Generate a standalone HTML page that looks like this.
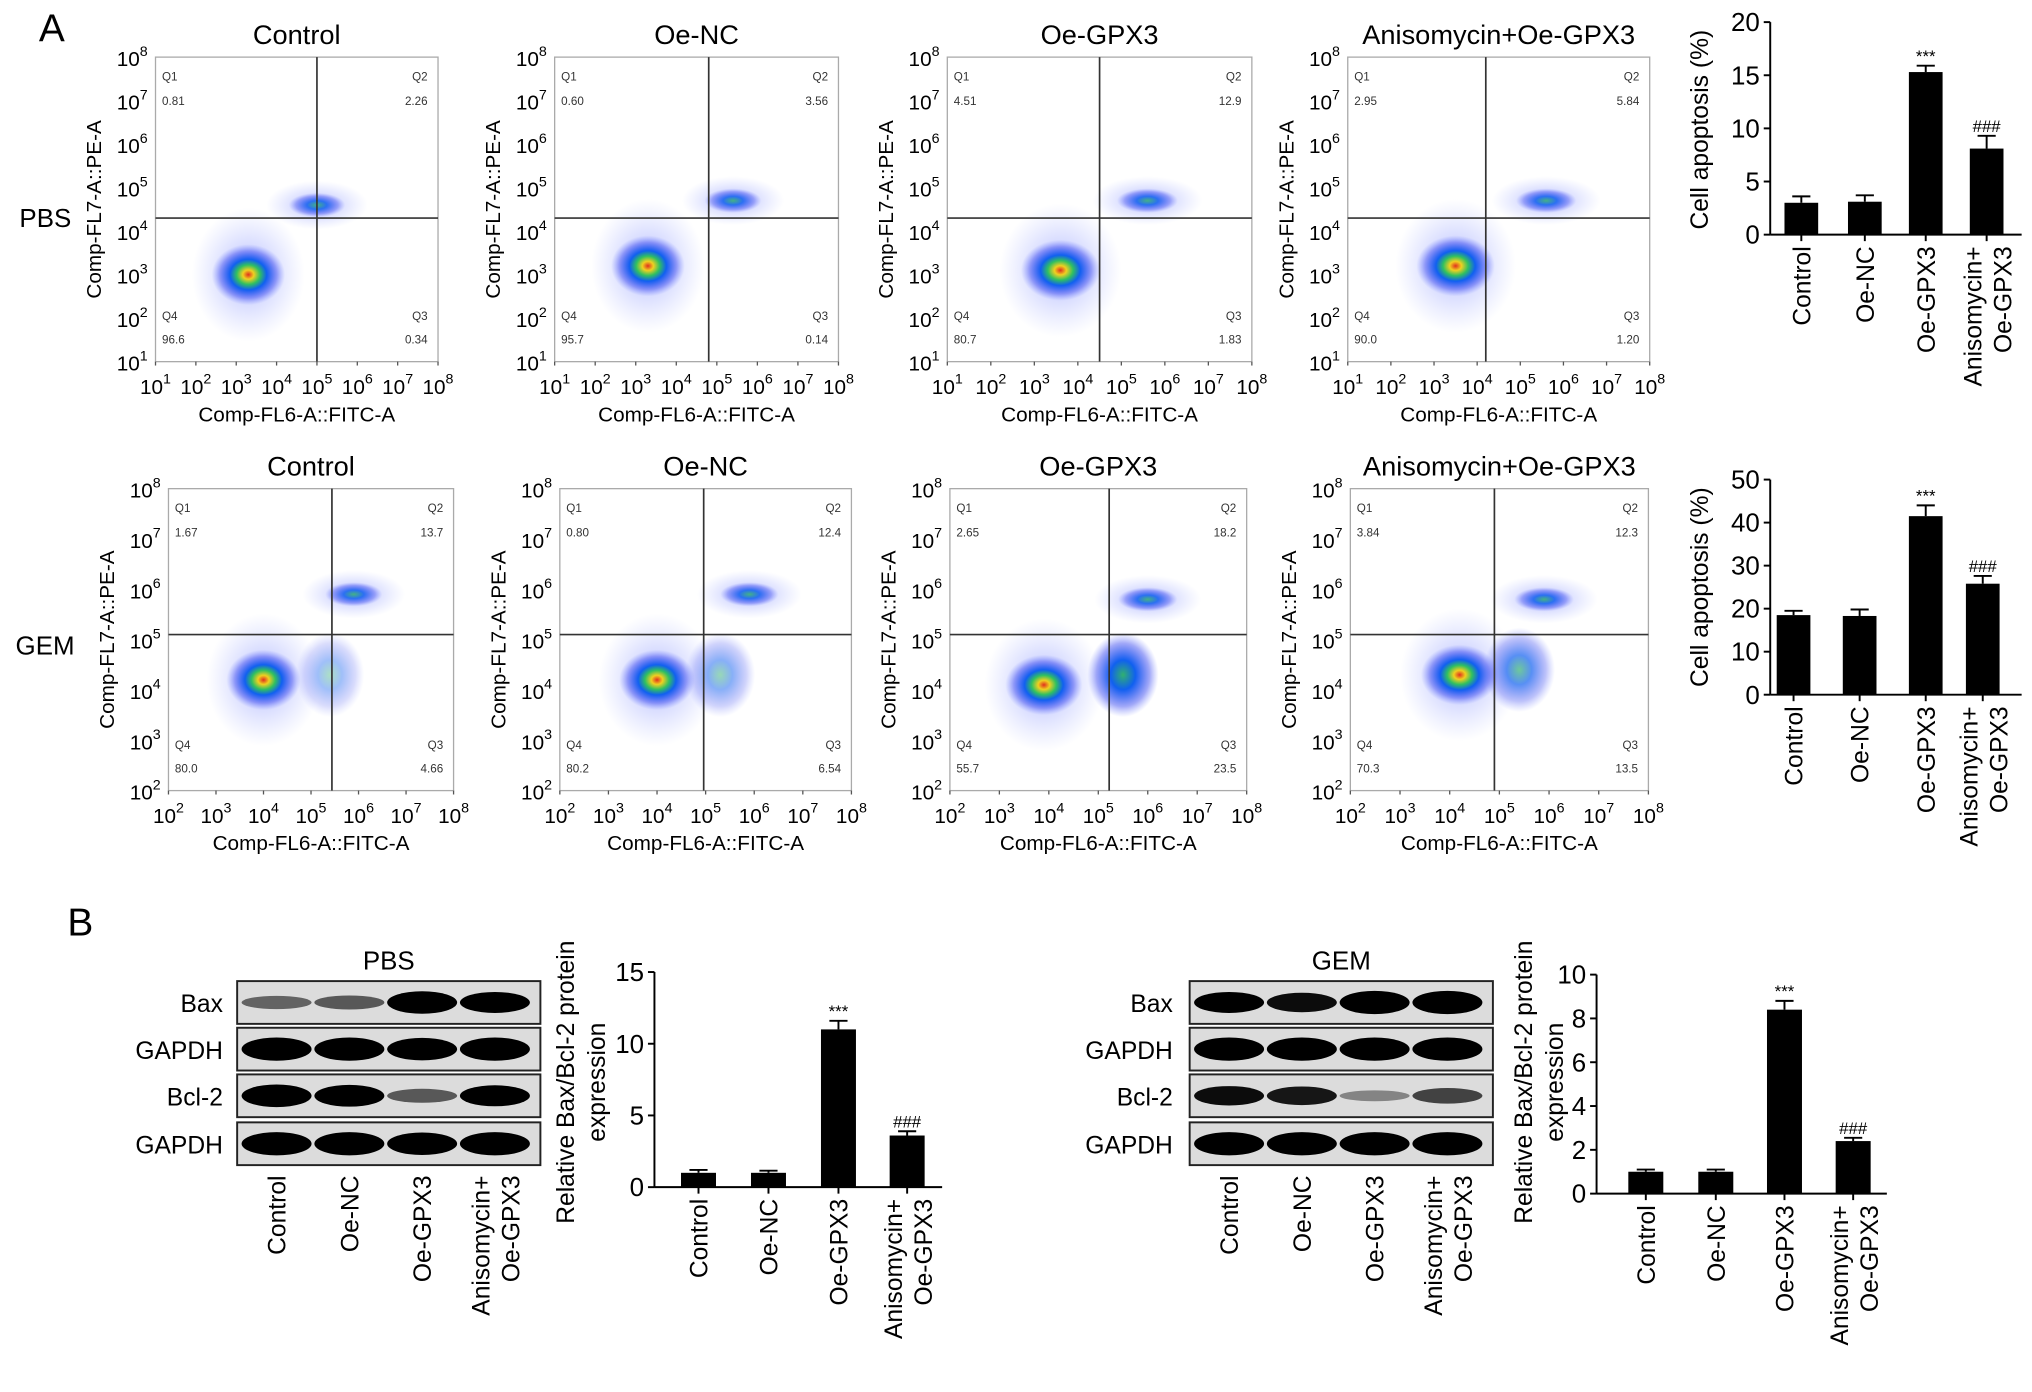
<!DOCTYPE html>
<html><head><meta charset="utf-8"><style>
html,body{margin:0;padding:0;background:#fff}
svg{display:block;font-family:"Liberation Sans",sans-serif}
</style></head><body>
<svg id="fig" width="2032" height="1392" viewBox="0 0 1568 1074" xmlns="http://www.w3.org/2000/svg">
<defs>
<radialGradient id="dens">
<stop offset="0" stop-color="#e0301e"/>
<stop offset="0.15" stop-color="#f0d020"/>
<stop offset="0.32" stop-color="#30c060"/>
<stop offset="0.5" stop-color="#1060f0"/>
<stop offset="0.78" stop-color="#3040f0" stop-opacity="0.45"/>
<stop offset="1" stop-color="#6070ff" stop-opacity="0"/>
</radialGradient>
<radialGradient id="dens2">
<stop offset="0" stop-color="#30b070"/>
<stop offset="0.35" stop-color="#1060f0"/>
<stop offset="0.75" stop-color="#3040f0" stop-opacity="0.45"/>
<stop offset="1" stop-color="#6070ff" stop-opacity="0"/>
</radialGradient>
<radialGradient id="halo">
<stop offset="0" stop-color="#5060ff" stop-opacity="0.45"/>
<stop offset="1" stop-color="#8090ff" stop-opacity="0"/>
</radialGradient>
</defs>
<text x="30" y="32" font-size="30">A</text>
<text x="52" y="722" font-size="30">B</text>
<text x="15" y="175" font-size="20">PBS</text>
<text x="12" y="505" font-size="20">GEM</text>
</svg>
<script>
const NS='http://www.w3.org/2000/svg';
const svg=document.getElementById('fig');
function mk(tag,attrs,parent,txt){const e=document.createElementNS(NS,tag);for(const k in attrs)e.setAttribute(k,attrs[k]);if(txt!==undefined)e.textContent=txt;(parent||svg).appendChild(e);return e;}

// ---------- flow cytometry data ----------
const flowTitles=['Control','Oe-NC','Oe-GPX3','Anisomycin+Oe-GPX3'];
const pbsQ1=['0.81','0.60','4.51','2.95'];
const pbsQ2=['2.26','3.56','12.9','5.84'];
const pbsQ3=['0.34','0.14','1.83','1.20'];
const pbsQ4=['96.6','95.7','80.7','90.0'];
const gemQ1=['1.67','0.80','2.65','3.84'];
const gemQ2=['13.7','12.4','18.2','12.3'];
const gemQ3=['4.66','6.54','23.5','13.5'];
const gemQ4=['80.0','80.2','55.7','70.3'];
// cluster centres (log10 units)
const pbsMainX=[3.3,3.3,3.6,3.5], pbsMainY=[3.0,3.2,3.1,3.2];
const pbsQ2X=[5.0,5.4,5.6,5.6], pbsQ2Y=[4.6,4.7,4.7,4.7];
const gemMainX=[4.0,4.0,3.9,4.2], gemMainY=[4.2,4.2,4.1,4.3];
const gemQ2X=[5.9,5.9,6.0,5.9], gemQ2Y=[5.9,5.9,5.8,5.8];
const gemQ3X=[5.4,5.3,5.5,5.4], gemQ3Y=[4.3,4.3,4.3,4.4];
const gemQ3W=[0.4,0.5,1.0,0.7];
const pbsGateX=[5.0,4.8,4.5,4.2], pbsGateY=[4.3,4.3,4.3,4.3];
const gemGateX=[5.44,4.96,5.22,4.9], gemGateY=[5.1,5.1,5.1,5.1];

const row1Frames=[[120,338],[428,647],[731,966],[1040,1273]];
const row2Frames=[[130,350],[432,657],[733,962],[1042,1272]];

function flowPlot(fr,top,bot,minExp,title,q1,q2,q3,q4,mx,my,qx,qy,gx,gy,name,q3x,q3y,q3w){
  const g=mk('g',{});
  
  
  const [x0,x1]=fr;
  const W=x1-x0,H=bot-top;
  const sx=v=>x0+(v-minExp)/(8-minExp)*W;
  const sy=v=>bot-(v-minExp)/(8-minExp)*H;
  const t=mk('text',{x:(x0+x1)/2,y:top-10,'font-size':21,'text-anchor':'middle'},g,title);
  
  const cp=mk('clipPath',{id:'c'+name},g);mk('rect',{x:x0,y:top,width:W,height:H},cp);
  const cg=mk('g',{'clip-path':'url(#c'+name+')'},g);
  mk('ellipse',{cx:sx(mx),cy:sy(my),rx:W*0.2,ry:H*0.22,fill:'url(#halo)'},cg);
  mk('ellipse',{cx:sx(qx),cy:sy(qy),rx:W*0.18,ry:H*0.08,fill:'url(#halo)'},cg);
  if(q3x!==undefined){
    const q=mk('ellipse',{cx:sx(q3x),cy:sy(q3y),rx:W*0.12,ry:H*0.14,fill:'url(#dens2)',opacity:q3w},cg);
    
  }
  const c=mk('ellipse',{cx:sx(mx),cy:sy(my),rx:W*0.13,ry:H*0.1,fill:'url(#dens)'},cg);
  
  const c2=mk('ellipse',{cx:sx(qx),cy:sy(qy),rx:W*0.1,ry:H*0.04,fill:'url(#dens2)',opacity:0.85},cg);
  
  mk('rect',{x:x0,y:top,width:W,height:H,fill:'none',stroke:'#aaa','stroke-width':1},g);
  const gl=mk('line',{x1:sx(gx),x2:sx(gx),y1:top,y2:bot,stroke:'#333','stroke-width':1.3},g);
  
  const gh=mk('line',{x1:x0,x2:x1,y1:sy(gy),y2:sy(gy),stroke:'#333','stroke-width':1.3},g);
  
  const qa={'font-size':9,fill:'#333'};
  mk('text',Object.assign({x:x0+5,y:top+18},qa),g,'Q1');
  mk('text',Object.assign({x:x0+5,y:top+37},qa),g,q1);
  mk('text',Object.assign({x:x1-8,y:top+18,'text-anchor':'end'},qa),g,'Q2');
  mk('text',Object.assign({x:x1-8,y:top+37,'text-anchor':'end'},qa),g,q2);
  mk('text',Object.assign({x:x0+5,y:bot-32},qa),g,'Q4');
  mk('text',Object.assign({x:x0+5,y:bot-14},qa),g,q4);
  mk('text',Object.assign({x:x1-8,y:bot-32,'text-anchor':'end'},qa),g,'Q3');
  mk('text',Object.assign({x:x1-8,y:bot-14,'text-anchor':'end'},qa),g,q3);
  for(let e=minExp;e<=8;e++){
    const tx=mk('text',{x:sx(e),y:bot+25,'font-size':16,'text-anchor':'middle'},g);
    mk('tspan',{},tx,'10');mk('tspan',{dy:-8,'font-size':11},tx,String(e));
    const ty=mk('text',{x:x0-6,y:sy(e)+7,'font-size':16,'text-anchor':'end'},g);
    mk('tspan',{},ty,'10');mk('tspan',{dy:-8,'font-size':11},ty,String(e));
    mk('line',{x1:sx(e),x2:sx(e),y1:bot,y2:bot+3,stroke:'#555'},g);
  }
  const xl=mk('text',{x:(x0+x1)/2,y:bot+46,'font-size':16,'text-anchor':'middle'},g,'Comp-FL6-A::FITC-A');
  
  const yx=x0-42,yy=(top+bot)/2;
  const yl=mk('text',{x:yx,y:yy,'font-size':16,'text-anchor':'middle',transform:`rotate(-90 ${yx} ${yy})`},g,'Comp-FL7-A::PE-A');
  
}
for(let i=0;i<4;i++){
  flowPlot(row1Frames[i],44,279,1,flowTitles[i],pbsQ1[i],pbsQ2[i],pbsQ3[i],pbsQ4[i],pbsMainX[i],pbsMainY[i],pbsQ2X[i],pbsQ2Y[i],pbsGateX[i],pbsGateY[i],'pbs-flow-'+i);
  flowPlot(row2Frames[i],377,610,2,flowTitles[i],gemQ1[i],gemQ2[i],gemQ3[i],gemQ4[i],gemMainX[i],gemMainY[i],gemQ2X[i],gemQ2Y[i],gemGateX[i],gemGateY[i],'gem-flow-'+i,gemQ3X[i],gemQ3Y[i],gemQ3W[i]);
}

// ---------- bar chart data ----------
const cats=['Control','Oe-NC','Oe-GPX3','Anisomycin+|Oe-GPX3'];
const pbsApop=[3.0,3.1,15.3,8.1], pbsApopErr=[0.6,0.6,0.6,1.2], pbsApopTicks=[0,5,10,15,20];
const gemApop=[18.5,18.3,41.5,25.8], gemApopErr=[1.0,1.5,2.5,1.8], gemApopTicks=[0,10,20,30,40,50];
const pbsRatio=[1.0,1.0,11.0,3.6], pbsRatioErr=[0.2,0.15,0.6,0.3], pbsRatioTicks=[0,5,10,15];
const gemRatio=[1.0,1.0,8.4,2.4], gemRatioErr=[0.1,0.1,0.4,0.15], gemRatioTicks=[0,2,4,6,8,10];
const marks=['','','***','###'];

function barChart(o){
  const g=mk('g',{});
  
  
  const ymax=o.ticks[o.ticks.length-1];
  const sy=v=>o.y0-v/ymax*(o.y0-o.yTop);
  mk('line',{x1:o.ax,x2:o.ax,y1:o.yTop,y2:o.y0,stroke:'#000','stroke-width':1.5},g);
  mk('line',{x1:o.ax,x2:o.xEnd,y1:o.y0,y2:o.y0,stroke:'#000','stroke-width':1.5},g);
  o.ticks.forEach(t=>{
    mk('line',{x1:o.ax-5,x2:o.ax,y1:sy(t),y2:sy(t),stroke:'#000','stroke-width':1.5},g);
    const tl=mk('text',{x:o.ax-8,y:sy(t)+7,'font-size':20,'text-anchor':'end'},g,String(t));
    
  });
  o.vals.forEach((v,i)=>{
    const cx=o.centers[i];
    const b=mk('rect',{x:cx-o.bw/2,y:sy(v),width:o.bw,height:o.y0-sy(v),fill:'#000'},g);
    
    
    const et=sy(v+o.err[i]);
    mk('line',{x1:cx,x2:cx,y1:sy(v),y2:et,stroke:'#000','stroke-width':1.5},g);
    mk('line',{x1:cx-7,x2:cx+7,y1:et,y2:et,stroke:'#000','stroke-width':1.5},g);
    mk('line',{x1:cx,x2:cx,y1:o.y0,y2:o.y0+5,stroke:'#000','stroke-width':1.5},g);
    if(marks[i]){const m=mk('text',{x:cx,y:et-3,'font-size':13,'text-anchor':'middle'},g,marks[i]);
      }
    labelCat(g,cx,o.y0+9,cats[i],19);
  });
  o.ylab.forEach((s,k)=>{
    const x=o.ylx+k*24,y=o.yly;
    const l=mk('text',{x:x,y:y,'font-size':19,'text-anchor':'middle',transform:`rotate(-90 ${x} ${y})`},g,s);
    
  });
}
function labelCat(g,cx,y,c,fs){
  const parts=c.split('|');
  parts.forEach((p,k)=>{
    const xx=parts.length>1?cx-4+k*23:cx+7;
    const t=mk('text',{x:xx,y:y,'font-size':fs,'text-anchor':'end',transform:`rotate(-90 ${xx} ${y})`},g,p);
    
  });
}
barChart({name:'pbs-apoptosis-chart',vals:pbsApop,err:pbsApopErr,ticks:pbsApopTicks,ax:1366,xEnd:1560,y0:181,yTop:17,centers:[1390,1439,1486,1533],bw:26,ylab:['Cell apoptosis (%)'],ylx:1318,yly:100});
barChart({name:'gem-apoptosis-chart',vals:gemApop,err:gemApopErr,ticks:gemApopTicks,ax:1366,xEnd:1560,y0:536,yTop:370,centers:[1384,1435,1486,1530],bw:26,ylab:['Cell apoptosis (%)'],ylx:1318,yly:453});
barChart({name:'pbs-ratio-chart',vals:pbsRatio,err:pbsRatioErr,ticks:pbsRatioTicks,ax:505,xEnd:727,y0:916,yTop:750,centers:[539,593,647,700],bw:27,ylab:['Relative Bax/Bcl-2 protein','expression'],ylx:443,yly:835});
barChart({name:'gem-ratio-chart',vals:gemRatio,err:gemRatioErr,ticks:gemRatioTicks,ax:1232,xEnd:1456,y0:921,yTop:752,centers:[1270,1324,1377,1430],bw:27,ylab:['Relative Bax/Bcl-2 protein','expression'],ylx:1182,yly:835});

// ---------- western blots ----------
const blotRows=['Bax','GAPDH','Bcl-2','GAPDH'];
const pbsBand=[[0.35,0.4,0.95,0.85],[1,1,0.95,1],[0.95,0.9,0.4,0.85],[1,1,0.95,1]];
const gemBand=[[0.85,0.75,1,1],[1,1,1,1],[0.75,0.7,0.2,0.5],[1,1,1,1]];
const rowTops=[757,793,829,866], rowH=33;
function blot(x0,x1,title,bands,name,lx){
  const g=mk('g',{});
  
  mk('text',{x:(x0+x1)/2,y:748,'font-size':20,'text-anchor':'middle'},g,title);
  const lanes=[0.13,0.37,0.61,0.85].map(f=>x0+f*(x1-x0));
  blotRows.forEach((r,i)=>{
    const y=rowTops[i];
    mk('rect',{x:x0,y:y,width:x1-x0,height:rowH,fill:'#dcdcdc',stroke:'#222','stroke-width':1.5},g);
    const l=mk('text',{x:lx,y:y+24,'font-size':19,'text-anchor':'end'},g,r);
    
    bands[i].forEach((v,j)=>{
      const b=mk('ellipse',{cx:lanes[j],cy:y+rowH/2,rx:27,ry:3+6*v,fill:'#000',opacity:Math.min(1,0.2+v)},g);
      
    });
  });
  lanes.forEach((cx,j)=>labelCat(g,cx,907,cats[j],19));
}
blot(183,417,'PBS',pbsBand,'pbs-western-blot',172);
blot(918,1152,'GEM',gemBand,'gem-western-blot',905);
</script>
</body></html>
